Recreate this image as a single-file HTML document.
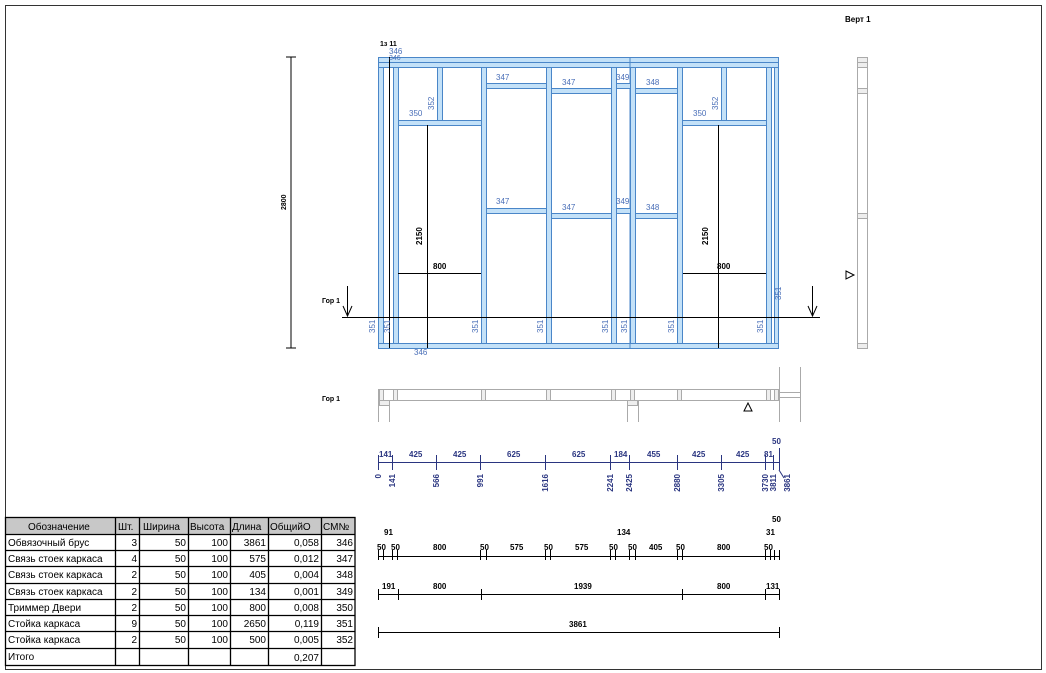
<!DOCTYPE html>
<html><head><meta charset="utf-8"><style>
html,body{margin:0;padding:0;background:#fff;}
svg{display:block;}
text{font-family:"Liberation Sans",Arial,sans-serif;}
.b{fill:#c3e1f8;stroke:#4a86c8;stroke-width:1;}
.bl{fill:#4a6fb8;font-size:8px;}
.k{fill:#000;font-size:8px;font-weight:bold;}
.n{fill:#2a3580;font-size:8px;font-weight:bold;}
.g{fill:#fff;stroke:#aaa;stroke-width:1;}
.t td{border:1px solid #000;}
</style></head><body>
<svg width="1046" height="673" viewBox="0 0 1046 673" xmlns="http://www.w3.org/2000/svg">
<rect x="5.5" y="5.5" width="1036" height="664" fill="none" stroke="#333" stroke-width="1"/>
<text x="845" y="22" class="k" font-weight="normal" style="font-weight:bold;font-size:8px">Верт 1</text>

<!-- left dim -->
<line x1="291" y1="57" x2="291" y2="348" stroke="#000"/>
<line x1="286" y1="57" x2="296" y2="57" stroke="#000"/>
<line x1="286" y1="348" x2="296" y2="348" stroke="#000"/>
<text transform="translate(286,210) rotate(-90)" class="k" style="font-size:7px">2800</text>

<!-- frame -->
<g>
<rect class="b" x="378.5" y="57.5" width="400" height="5"/>
<rect class="b" x="378.5" y="62.5" width="400" height="5"/>
<rect class="b" x="378.5" y="343.5" width="400" height="5"/>
<rect class="b" x="378.5" y="67.5" width="5" height="276"/>
<rect class="b" x="393.5" y="67.5" width="5" height="276"/>
<rect class="b" x="481.5" y="67.5" width="5" height="276"/>
<rect class="b" x="546.5" y="67.5" width="5" height="276"/>
<rect class="b" x="611.5" y="67.5" width="5" height="276"/>
<rect class="b" x="630.5" y="67.5" width="5" height="276"/>
<rect class="b" x="677.5" y="67.5" width="5" height="276"/>
<rect class="b" x="766.5" y="67.5" width="5" height="276"/>
<rect class="b" x="774.5" y="67.5" width="4" height="276"/>
<line x1="630" y1="57" x2="630" y2="348" stroke="#4a86c8"/>
<rect class="b" x="437.5" y="67.5" width="5" height="53"/>
<rect class="b" x="721.5" y="67.5" width="5" height="53"/>
<rect class="b" x="398.5" y="120.5" width="83" height="5"/>
<rect class="b" x="682.5" y="120.5" width="84" height="5"/>
<rect class="b" x="486.5" y="83.5" width="60" height="5"/>
<rect class="b" x="551.5" y="88.5" width="60" height="5"/>
<rect class="b" x="616.5" y="83.5" width="14" height="5"/>
<rect class="b" x="635.5" y="88.5" width="42" height="5"/>
<rect class="b" x="486.5" y="208.5" width="60" height="5"/>
<rect class="b" x="551.5" y="213.5" width="60" height="5"/>
<rect class="b" x="616.5" y="208.5" width="14" height="5"/>
<rect class="b" x="635.5" y="213.5" width="42" height="5"/>
</g>
<line x1="389.5" y1="57" x2="389.5" y2="348" stroke="#000"/>
<line x1="427.5" y1="125" x2="427.5" y2="348" stroke="#000"/>
<line x1="718.5" y1="125" x2="718.5" y2="348" stroke="#000"/>
<line x1="398" y1="273.5" x2="481" y2="273.5" stroke="#000"/>
<line x1="683" y1="273.5" x2="766" y2="273.5" stroke="#000"/>
<line x1="342" y1="317.5" x2="820" y2="317.5" stroke="#000"/>
<line x1="347.5" y1="286" x2="347.5" y2="316" stroke="#000"/>
<polyline points="343,306 347.5,316 352,306" fill="none" stroke="#000"/>
<line x1="812.5" y1="286" x2="812.5" y2="316" stroke="#000"/>
<polyline points="808,306 812.5,316 817,306" fill="none" stroke="#000"/>
<text x="322" y="303" class="k" style="font-size:7px">Гор 1</text>
<text x="380" y="46" class="k" style="font-size:7px">1з 11</text>
<text x="389" y="54" class="bl">346</text>
<text x="389" y="60" class="bl" style="font-size:7px">346</text>
<text x="409" y="116" class="bl">350</text>
<text x="693" y="116" class="bl">350</text>
<text transform="translate(434,110) rotate(-90)" class="bl">352</text>
<text transform="translate(718,110) rotate(-90)" class="bl">352</text>
<text x="496" y="80" class="bl">347</text>
<text x="562" y="85" class="bl">347</text>
<text x="616" y="80" class="bl">349</text>
<text x="646" y="85" class="bl">348</text>
<text x="496" y="204" class="bl">347</text>
<text x="562" y="210" class="bl">347</text>
<text x="616" y="204" class="bl">349</text>
<text x="646" y="210" class="bl">348</text>
<text x="414" y="355" class="bl">346</text>
<text transform="translate(375,333) rotate(-90)" class="bl">351</text>
<text transform="translate(390,333) rotate(-90)" class="bl">351</text>
<text transform="translate(478,333) rotate(-90)" class="bl">351</text>
<text transform="translate(543,333) rotate(-90)" class="bl">351</text>
<text transform="translate(608,333) rotate(-90)" class="bl">351</text>
<text transform="translate(627,333) rotate(-90)" class="bl">351</text>
<text transform="translate(674,333) rotate(-90)" class="bl">351</text>
<text transform="translate(763,333) rotate(-90)" class="bl">351</text>
<text transform="translate(781,300) rotate(-90)" class="bl">351</text>
<text transform="translate(422,245) rotate(-90)" class="k">2150</text>
<text transform="translate(708,245) rotate(-90)" class="k">2150</text>
<text x="433" y="269" class="k">800</text>
<text x="717" y="269" class="k">800</text>

<!-- side view -->
<rect class="g" x="857.5" y="57.5" width="10" height="291"/>
<g fill="#eee" stroke="#aaa">
<rect x="857.5" y="57.5" width="10" height="5"/><rect x="857.5" y="62.5" width="10" height="5"/>
<rect x="857.5" y="88.5" width="10" height="5"/><rect x="857.5" y="213.5" width="10" height="5"/>
<rect x="857.5" y="343.5" width="10" height="5"/>
</g>
<polygon points="846,271 854,275 846,279" fill="none" stroke="#000"/>

<!-- plan view -->
<text x="322" y="401" class="k" style="font-size:7px">Гор 1</text>
<rect class="g" x="378.5" y="389.5" width="400" height="11"/>
<line x1="378.5" y1="400" x2="378.5" y2="422" stroke="#aaa"/>
<line x1="389.5" y1="400" x2="389.5" y2="422" stroke="#aaa"/>
<line x1="627.5" y1="400" x2="627.5" y2="422" stroke="#aaa"/>
<line x1="638.5" y1="400" x2="638.5" y2="422" stroke="#aaa"/>
<line x1="779.5" y1="367" x2="779.5" y2="422" stroke="#aaa"/>
<line x1="800.5" y1="367" x2="800.5" y2="422" stroke="#aaa"/>
<rect class="g" x="779.5" y="392.5" width="21" height="5"/>
<g fill="#eee" stroke="#aaa">
<rect x="379.5" y="389.5" width="4" height="11"/><rect x="393.5" y="389.5" width="4" height="11"/>
<rect x="481.5" y="389.5" width="4" height="11"/><rect x="546.5" y="389.5" width="4" height="11"/>
<rect x="611.5" y="389.5" width="4" height="11"/><rect x="630.5" y="389.5" width="4" height="11"/>
<rect x="677.5" y="389.5" width="4" height="11"/><rect x="766.5" y="389.5" width="4" height="11"/>
<rect x="774.5" y="389.5" width="4" height="11"/>
<rect x="379.5" y="400.5" width="10" height="5"/><rect x="627.5" y="400.5" width="10" height="5"/>
</g>
<polygon points="744,411 748,403 752,411" fill="none" stroke="#000"/>

<!-- blue dimension line -->
<g stroke="#2a3580">
<line x1="378" y1="462.5" x2="779" y2="462.5"/>
<line x1="378.5" y1="455" x2="378.5" y2="470"/><line x1="392.5" y1="455" x2="392.5" y2="470"/>
<line x1="436.5" y1="455" x2="436.5" y2="470"/><line x1="480.5" y1="455" x2="480.5" y2="470"/>
<line x1="545.5" y1="455" x2="545.5" y2="470"/><line x1="610.5" y1="455" x2="610.5" y2="470"/>
<line x1="629.5" y1="455" x2="629.5" y2="470"/><line x1="677.5" y1="455" x2="677.5" y2="470"/>
<line x1="721.5" y1="455" x2="721.5" y2="470"/><line x1="765.5" y1="455" x2="765.5" y2="470"/>
<line x1="773.5" y1="455" x2="773.5" y2="470"/><line x1="779.5" y1="448" x2="779.5" y2="470"/>
<line x1="779" y1="470" x2="784" y2="478"/>
</g>
<g class="n" style="font-weight:normal">
<text x="379" y="457" class="n">141</text><text x="409" y="457" class="n">425</text>
<text x="453" y="457" class="n">425</text><text x="507" y="457" class="n">625</text>
<text x="572" y="457" class="n">625</text><text x="614" y="457" class="n">184</text>
<text x="647" y="457" class="n">455</text><text x="692" y="457" class="n">425</text>
<text x="736" y="457" class="n">425</text><text x="764" y="457" class="n">81</text>
<text x="772" y="444" class="n">50</text>
</g>
<g text-anchor="end">
<text transform="translate(381,474) rotate(-90)" class="n">0</text>
<text transform="translate(395,474) rotate(-90)" class="n">141</text>
<text transform="translate(439,474) rotate(-90)" class="n">566</text>
<text transform="translate(483,474) rotate(-90)" class="n">991</text>
<text transform="translate(548,474) rotate(-90)" class="n">1616</text>
<text transform="translate(613,474) rotate(-90)" class="n">2241</text>
<text transform="translate(632,474) rotate(-90)" class="n">2425</text>
<text transform="translate(680,474) rotate(-90)" class="n">2880</text>
<text transform="translate(724,474) rotate(-90)" class="n">3305</text>
<text transform="translate(768,474) rotate(-90)" class="n">3730</text>
<text transform="translate(776,474) rotate(-90)" class="n">3811</text>
<text transform="translate(790,474) rotate(-90)" class="n">3861</text>
</g>

<!-- black dimension line 2 -->
<g stroke="#000">
<line x1="378" y1="556.5" x2="779" y2="556.5"/>
<line x1="378.5" y1="550" x2="378.5" y2="560"/><line x1="383.5" y1="550" x2="383.5" y2="560"/>
<line x1="392.5" y1="550" x2="392.5" y2="560"/><line x1="397.5" y1="550" x2="397.5" y2="560"/>
<line x1="480.5" y1="550" x2="480.5" y2="560"/><line x1="486.5" y1="550" x2="486.5" y2="560"/>
<line x1="545.5" y1="550" x2="545.5" y2="560"/><line x1="550.5" y1="550" x2="550.5" y2="560"/>
<line x1="610.5" y1="550" x2="610.5" y2="560"/><line x1="615.5" y1="550" x2="615.5" y2="560"/>
<line x1="629.5" y1="550" x2="629.5" y2="560"/><line x1="635.5" y1="550" x2="635.5" y2="560"/>
<line x1="677.5" y1="550" x2="677.5" y2="560"/><line x1="682.5" y1="550" x2="682.5" y2="560"/>
<line x1="765.5" y1="550" x2="765.5" y2="560"/><line x1="770.5" y1="550" x2="770.5" y2="560"/>
<line x1="774.5" y1="550" x2="774.5" y2="560"/><line x1="779.5" y1="550" x2="779.5" y2="560"/>
</g>
<g class="k">
<text x="384" y="535" class="k">91</text><text x="617" y="535" class="k">134</text>
<text x="766" y="535" class="k">31</text><text x="772" y="522" class="k">50</text>
<text x="377" y="550" class="k">50</text><text x="391" y="550" class="k">50</text>
<text x="433" y="550" class="k">800</text><text x="480" y="550" class="k">50</text>
<text x="510" y="550" class="k">575</text><text x="544" y="550" class="k">50</text>
<text x="575" y="550" class="k">575</text><text x="609" y="550" class="k">50</text>
<text x="628" y="550" class="k">50</text><text x="649" y="550" class="k">405</text>
<text x="676" y="550" class="k">50</text><text x="717" y="550" class="k">800</text>
<text x="764" y="550" class="k">50</text>
</g>

<!-- line 3 -->
<g stroke="#000">
<line x1="378" y1="594.5" x2="779" y2="594.5"/>
<line x1="378.5" y1="589" x2="378.5" y2="600"/><line x1="398.5" y1="589" x2="398.5" y2="600"/>
<line x1="481.5" y1="589" x2="481.5" y2="600"/><line x1="682.5" y1="589" x2="682.5" y2="600"/>
<line x1="765.5" y1="589" x2="765.5" y2="600"/><line x1="779.5" y1="589" x2="779.5" y2="600"/>
</g>
<text x="382" y="589" class="k">191</text><text x="433" y="589" class="k">800</text>
<text x="574" y="589" class="k">1939</text><text x="717" y="589" class="k">800</text>
<text x="766" y="589" class="k">131</text>
<!-- line 4 -->
<g stroke="#000">
<line x1="378" y1="632.5" x2="779" y2="632.5"/>
<line x1="378.5" y1="627" x2="378.5" y2="638"/><line x1="779.5" y1="627" x2="779.5" y2="638"/>
</g>
<text x="569" y="627" class="k">3861</text>

<!-- table -->
<g font-size="10" fill="#000">
<rect x="5" y="517" width="350" height="17" fill="#c8c8c8"/>
<g stroke="#000" stroke-width="1.3" fill="none">
<rect x="5.5" y="517.5" width="349.5" height="148"/>
<line x1="5" y1="534.5" x2="355" y2="534.5"/><line x1="5" y1="550.5" x2="355" y2="550.5"/>
<line x1="5" y1="566.5" x2="355" y2="566.5"/><line x1="5" y1="583.5" x2="355" y2="583.5"/>
<line x1="5" y1="599.5" x2="355" y2="599.5"/><line x1="5" y1="615.5" x2="355" y2="615.5"/>
<line x1="5" y1="631.5" x2="355" y2="631.5"/><line x1="5" y1="648.5" x2="355" y2="648.5"/>
<line x1="115.5" y1="517" x2="115.5" y2="666"/><line x1="139.5" y1="517" x2="139.5" y2="666"/>
<line x1="188.5" y1="517" x2="188.5" y2="666"/><line x1="230.5" y1="517" x2="230.5" y2="666"/>
<line x1="268.5" y1="517" x2="268.5" y2="666"/><line x1="321.5" y1="517" x2="321.5" y2="666"/>
</g>
<g font-size="10">
<text x="28" y="530">Обозначение</text><text x="118" y="530">Шт.</text>
<text x="143" y="530">Ширина</text><text x="190" y="530">Высота</text>
<text x="232" y="530">Длина</text><text x="270" y="530">ОбщийО</text><text x="323" y="530">СМ№</text>
<text x="8" y="546">Обвязочный брус</text>
<text x="8" y="562">Связь стоек каркаса</text>
<text x="8" y="578">Связь стоек каркаса</text>
<text x="8" y="595">Связь стоек каркаса</text>
<text x="8" y="611">Триммер Двери</text>
<text x="8" y="627">Стойка каркаса</text>
<text x="8" y="643">Стойка каркаса</text>
<text x="8" y="660">Итого</text>
</g>
<g font-size="10" text-anchor="end">
<text x="137" y="546">3</text><text x="186" y="546">50</text><text x="228" y="546">100</text><text x="266" y="546">3861</text><text x="319" y="546">0,058</text><text x="353" y="546">346</text>
<text x="137" y="562">4</text><text x="186" y="562">50</text><text x="228" y="562">100</text><text x="266" y="562">575</text><text x="319" y="562">0,012</text><text x="353" y="562">347</text>
<text x="137" y="578">2</text><text x="186" y="578">50</text><text x="228" y="578">100</text><text x="266" y="578">405</text><text x="319" y="578">0,004</text><text x="353" y="578">348</text>
<text x="137" y="595">2</text><text x="186" y="595">50</text><text x="228" y="595">100</text><text x="266" y="595">134</text><text x="319" y="595">0,001</text><text x="353" y="595">349</text>
<text x="137" y="611">2</text><text x="186" y="611">50</text><text x="228" y="611">100</text><text x="266" y="611">800</text><text x="319" y="611">0,008</text><text x="353" y="611">350</text>
<text x="137" y="627">9</text><text x="186" y="627">50</text><text x="228" y="627">100</text><text x="266" y="627">2650</text><text x="319" y="627">0,119</text><text x="353" y="627">351</text>
<text x="137" y="643">2</text><text x="186" y="643">50</text><text x="228" y="643">100</text><text x="266" y="643">500</text><text x="319" y="643">0,005</text><text x="353" y="643">352</text>
<text x="319" y="661">0,207</text>
</g>
</g>
</svg>
</body></html>
